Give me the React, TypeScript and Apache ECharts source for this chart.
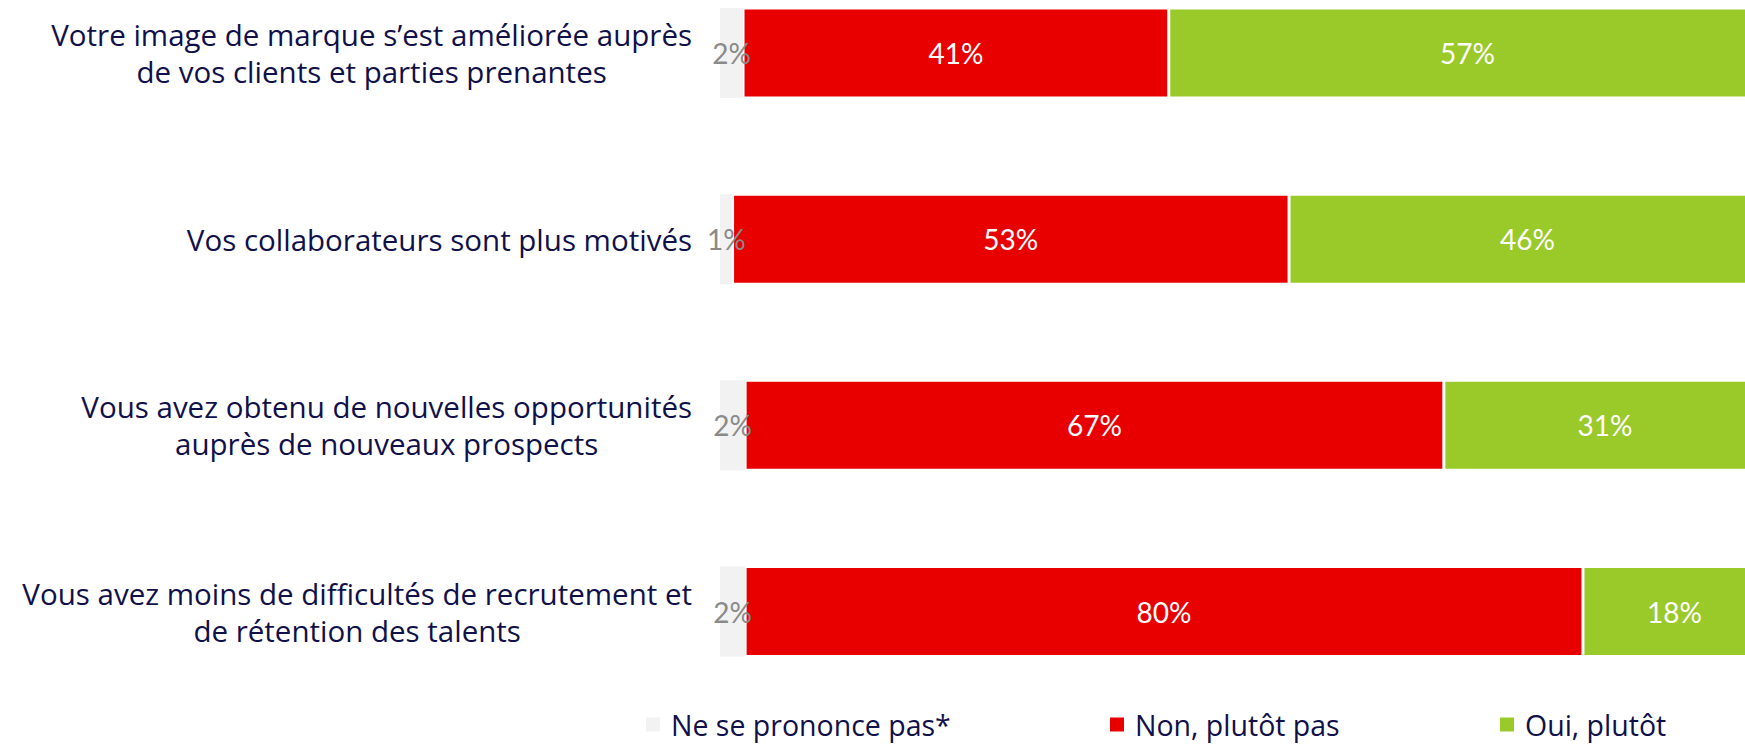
import React, { useEffect, useRef } from "react";
import * as echarts from "echarts";

const categories = [
  "Votre image de marque s’est améliorée auprès\nde vos clients et parties prenantes",
  "Vos collaborateurs sont plus motivés",
  "Vous avez obtenu de nouvelles opportunités\nauprès de nouveaux prospects",
  "Vous avez moins de difficultés de recrutement et\nde rétention des talents",
];
const seriesNames = ["Ne se prononce pas*", "Non, plutôt pas", "Oui, plutôt"];
const nspValues = [2.2, 1.2, 2.4, 2.4];
const nonValues = [40.7, 53.2, 66.8, 80.1];
const ouiValues = [57.1, 45.6, 30.8, 17.5];
const seriesColors = ["#f2f2f2", "#e80000", "#9aca2a"];
const labelColors = ["#8a8a8a", "#ffffff", "#ffffff"];

const NAVY = "#10104a";

export default function App() {
  const ref = useRef<HTMLDivElement>(null);

  useEffect(() => {
    if (!ref.current) return;
    const chart = echarts.init(ref.current, null, { renderer: "svg" });
    const seriesData = [nspValues, nonValues, ouiValues];
    const legendLefts = [646, 1110, 1500];

    const option: any = {
      animation: false,
      backgroundColor: "#ffffff",
      grid: {
        left: 720,
        top: 53,
        width: 1046,
        height: 558.5,
        containLabel: false,
        outerBoundsMode: "none",
      },
      xAxis: {
        type: "value",
        min: 0,
        max: 100,
        show: false,
      },
      yAxis: {
        type: "category",
        inverse: true,
        boundaryGap: false,
        data: categories,
        axisLine: { show: false },
        axisTick: { show: false },
        splitLine: { show: false },
        axisLabel: {
          margin: 28,
          align: "right",
          formatter: (v: string) => `{c|${v}}`,
          rich: {
            c: {
              align: "center",
              fontFamily: "Open Sans",
              fontSize: 29.5,
              lineHeight: 37,
              color: NAVY,
            },
          },
        },
      },
      legend: seriesNames.map((name, i) => ({
        data: [name],
        left: legendLefts[i],
        top: 710,
        padding: 0,
        icon: "rect",
        itemWidth: 14,
        itemHeight: 14,
        itemStyle: { borderWidth: 0 },
        selectedMode: false,
        textStyle: {
          fontFamily: "Open Sans",
          fontSize: 28.5,
          lineHeight: 28,
          color: NAVY,
          padding: [0, 0, 0, 6],
        },
      })),
      series: seriesNames.map((name, i) => ({
        name,
        type: "bar",
        stack: "total",
        barWidth: 90,
        data: seriesData[i],
        itemStyle: {
          color: seriesColors[i],
          borderColor: "#ffffff",
          borderWidth: i === 0 ? 0 : 1.5,
        },
        label: {
          show: true,
          position: "inside",
          formatter: (p: any) => `${Math.round(p.value)}%`,
          fontFamily: "Lato",
          fontSize: 28,
          color: labelColors[i],
        },
      })),
    };

    chart.setOption(option);
    return () => chart.dispose();
  }, []);

  return (
    <div
      ref={ref}
      style={{ position: "absolute", left: 0, top: 0, width: 1745, height: 744 }}
    />
  );
}
